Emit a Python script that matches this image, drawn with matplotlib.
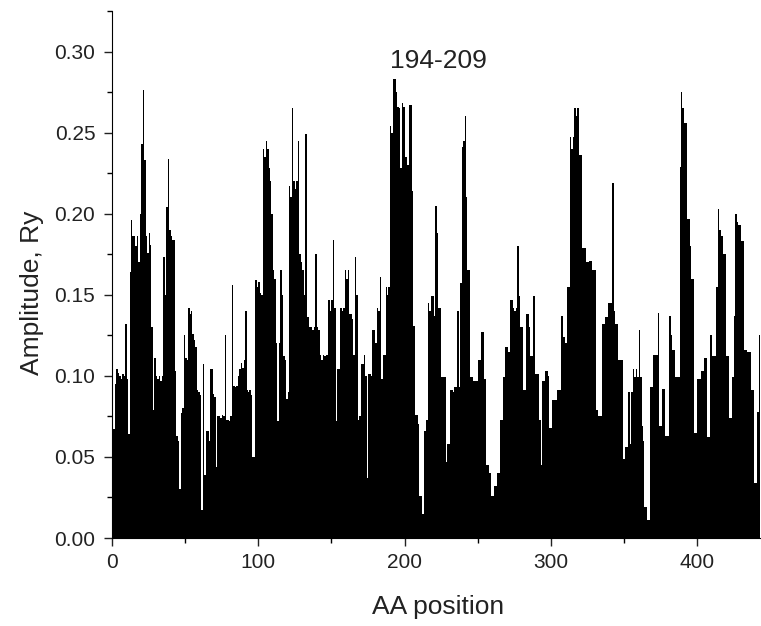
import numpy as np
import matplotlib
matplotlib.use("Agg")
import matplotlib.pyplot as plt
from matplotlib.ticker import MultipleLocator, FormatStrFormatter

# amplitude par position d'acide aminé
amplitude = [
    0.067, 0.095, 0.104, 0.102, 0.100, 0.098, 0.101, 0.100, 0.132, 0.098,
    0.064, 0.164, 0.196, 0.186, 0.186, 0.180, 0.186, 0.170, 0.200, 0.243,
    0.276, 0.233, 0.186, 0.176, 0.188, 0.181, 0.130, 0.079, 0.111, 0.100,
    0.098, 0.100, 0.097, 0.100, 0.173, 0.150, 0.204, 0.234, 0.190, 0.186,
    0.184, 0.184, 0.103, 0.063, 0.060, 0.030, 0.077, 0.080, 0.125, 0.111,
    0.110, 0.142, 0.138, 0.140, 0.126, 0.122, 0.118, 0.091, 0.090, 0.088,
    0.017, 0.107, 0.039, 0.066, 0.066, 0.060, 0.104, 0.104, 0.089, 0.087,
    0.044, 0.075, 0.075, 0.074, 0.076, 0.075, 0.125, 0.073, 0.073, 0.072,
    0.075, 0.156, 0.094, 0.093, 0.094, 0.100, 0.104, 0.108, 0.105, 0.110,
    0.140, 0.091, 0.090, 0.091, 0.088, 0.050, 0.050, 0.159, 0.155, 0.158,
    0.151, 0.150, 0.240, 0.235, 0.245, 0.240, 0.228, 0.220, 0.200, 0.165,
    0.160, 0.120, 0.072, 0.120, 0.165, 0.150, 0.112, 0.110, 0.086, 0.090,
    0.217, 0.210, 0.265, 0.220, 0.215, 0.220, 0.245, 0.175, 0.170, 0.165,
    0.150, 0.249, 0.136, 0.136, 0.130, 0.130, 0.128, 0.130, 0.175, 0.130,
    0.128, 0.113, 0.110, 0.113, 0.112, 0.113, 0.113, 0.147, 0.140, 0.147,
    0.184, 0.142, 0.072, 0.104, 0.104, 0.142, 0.140, 0.142, 0.165, 0.160,
    0.165, 0.138, 0.138, 0.135, 0.113, 0.173, 0.150, 0.073, 0.075, 0.107,
    0.107, 0.113, 0.100, 0.037, 0.101, 0.101, 0.100, 0.128, 0.128, 0.120,
    0.142, 0.140, 0.161, 0.098, 0.113, 0.113, 0.155, 0.150, 0.155, 0.254,
    0.250, 0.283, 0.283, 0.275, 0.266, 0.265, 0.228, 0.268, 0.266, 0.235,
    0.235, 0.230, 0.267, 0.267, 0.214, 0.131, 0.076, 0.076, 0.070, 0.026,
    0.026, 0.015, 0.066, 0.066, 0.073, 0.145, 0.140, 0.149, 0.149, 0.137,
    0.205, 0.188, 0.142, 0.142, 0.099, 0.099, 0.099, 0.047, 0.058, 0.058,
    0.091, 0.091, 0.090, 0.093, 0.093, 0.140, 0.093, 0.157, 0.241, 0.245,
    0.260, 0.210, 0.165, 0.165, 0.099, 0.099, 0.097, 0.097, 0.097, 0.110,
    0.110, 0.127, 0.127, 0.098, 0.098, 0.045, 0.045, 0.040, 0.026, 0.026,
    0.032, 0.032, 0.040, 0.040, 0.073, 0.073, 0.099, 0.099, 0.118, 0.118,
    0.115, 0.147, 0.147, 0.142, 0.140, 0.142, 0.180, 0.149, 0.130, 0.130,
    0.091, 0.091, 0.138, 0.138, 0.130, 0.112, 0.112, 0.149, 0.101, 0.101,
    0.101, 0.073, 0.045, 0.097, 0.097, 0.103, 0.103, 0.100, 0.068, 0.068,
    0.085, 0.085, 0.085, 0.091, 0.091, 0.091, 0.137, 0.124, 0.124, 0.120,
    0.155, 0.155, 0.247, 0.240, 0.247, 0.265, 0.260, 0.265, 0.236, 0.236,
    0.179, 0.179, 0.179, 0.170, 0.170, 0.171, 0.171, 0.165, 0.165, 0.165,
    0.079, 0.075, 0.075, 0.075, 0.132, 0.132, 0.136, 0.136, 0.145, 0.145,
    0.145, 0.219, 0.140, 0.132, 0.132, 0.110, 0.110, 0.110, 0.049, 0.049,
    0.056, 0.056, 0.090, 0.058, 0.090, 0.104, 0.099, 0.104, 0.099, 0.128,
    0.099, 0.069, 0.060, 0.019, 0.019, 0.011, 0.011, 0.093, 0.093, 0.113,
    0.113, 0.113, 0.139, 0.069, 0.069, 0.092, 0.092, 0.063, 0.063, 0.063,
    0.137, 0.125, 0.116, 0.116, 0.099, 0.099, 0.099, 0.229, 0.275, 0.265,
    0.256, 0.256, 0.197, 0.197, 0.180, 0.160, 0.160, 0.065, 0.065, 0.098,
    0.098, 0.098, 0.103, 0.103, 0.111, 0.111, 0.062, 0.062, 0.125, 0.112,
    0.112, 0.112, 0.155, 0.203, 0.190, 0.186, 0.186, 0.175, 0.175, 0.112,
    0.112, 0.074, 0.074, 0.099, 0.137, 0.200, 0.195, 0.193, 0.193, 0.183,
    0.183, 0.116, 0.116, 0.115, 0.115, 0.115, 0.091, 0.091, 0.034, 0.034,
    0.078, 0.125, 0.125,
]
positions = np.arange(1, len(amplitude) + 1)

annotation_text = "194-209"
annotation_pos = (223, 0.290)

plt.rcParams['font.family'] = ['Liberation Sans', 'DejaVu Sans']

fig = plt.figure(figsize=(7.61, 6.26), dpi=100)
ax = fig.add_axes([112 / 761, 88 / 626, 648 / 761, 527 / 626])

ax.bar(positions, amplitude, width=1.0, color='black', linewidth=0, align='edge')

ax.set_xlim(0, 443)
ax.set_ylim(0, 0.325)

ax.xaxis.set_major_locator(MultipleLocator(100))
ax.xaxis.set_minor_locator(MultipleLocator(50))
ax.yaxis.set_major_locator(MultipleLocator(0.05))
ax.yaxis.set_minor_locator(MultipleLocator(0.025))
ax.yaxis.set_major_formatter(FormatStrFormatter('%.2f'))

ax.spines['top'].set_visible(False)
ax.spines['right'].set_visible(False)
ax.tick_params(axis='both', which='major', direction='out', length=6, width=1,
               labelsize=15, colors='#222222')
ax.tick_params(axis='y', which='major', pad=6)
ax.tick_params(axis='x', which='major', pad=4.5)
ax.tick_params(axis='both', which='minor', direction='out', length=3.5, width=1)

ax.set_xlabel('AA position', fontsize=19, color='#222222')
ax.set_ylabel('Amplitude, Ry', fontsize=19, color='#222222')
ax.xaxis.set_label_coords(0.503, -0.108)
ax.yaxis.set_label_coords(-0.105, 0.465)

ax.text(annotation_pos[0], annotation_pos[1], annotation_text, fontsize=19,
        ha='center', va='baseline', color='#222222')

fig.savefig('out.png', dpi=100)
